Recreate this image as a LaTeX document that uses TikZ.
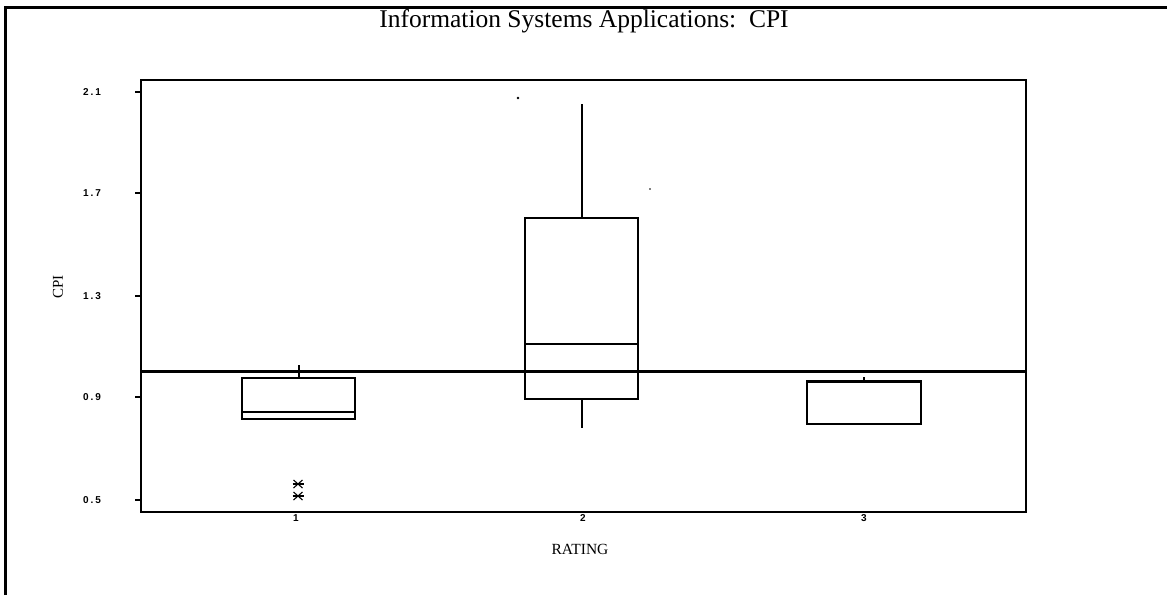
\documentclass[tikz,border=0pt]{standalone}
\usepackage{fontspec}
\setmainfont{Liberation Serif}
\newfontfamily\tickfont{Liberation Sans}[LetterSpace=20]
\begin{document}
\begin{tikzpicture}[x=1pt,y=-1pt,
  axis/.style={line width=1.1pt},
  boxline/.style={line width=1.1pt},
  refline/.style={line width=3.2pt},
  ticklabel/.style={font=\tickfont\bfseries\fontsize{10}{12}\selectfont, inner sep=0pt},
  axistitle/.style={font=\fontsize{15.5}{18}\selectfont, inner sep=0pt},
  outlier/.style={line width=1.1pt}]
\useasboundingbox (0,0) rectangle (1167,595);

% outer frame (top and left sides)
\draw[line width=3pt] (5.5,595) -- (5.5,7.5) -- (1167,7.5);

% title
\node[font=\fontsize{25.5}{30}\selectfont, inner sep=0pt] (title) at (584,21) {Information Systems Applications:\ \ CPI};

% plot area
\draw[axis] (141,80) rectangle (1026,512);

% y axis ticks and labels
\foreach \v/\y in {2.1/92, 1.7/193, 1.3/296, 0.9/397, 0.5/500} {
  \draw[axis] (135,\y) -- (141,\y);
  \node[ticklabel] (ylab\v) at (92,\y) {\v};
}
\node[axistitle, font=\fontsize{15}{17}\selectfont, rotate=90] (ytitle) at (58,287) {CPI};

% x axis labels
\node[ticklabel] (xlab1) at (296,518) {1};
\node[ticklabel] (xlab2) at (583,518) {2};
\node[ticklabel] (xlab3) at (864,518) {3};
\node[axistitle] (xtitle) at (580,549) {RATING};

% reference line at CPI = 1
\draw[refline] (141,371.5) -- (1026,371.5);

% rating 1
\draw[boxline] (242,378) rectangle (355,419);
\draw[boxline] (242,412) -- (355,412);
\draw[boxline] (299,378) -- (299,365);
\foreach \y in {484,496} {
  \draw[outlier] (293.5,\y-4) -- (302.5,\y+4);
  \draw[outlier] (293.5,\y+4) -- (302.5,\y-4);
  \draw[outlier] (292.5,\y) -- (303.5,\y);
}

% rating 2
\draw[boxline] (525,218) rectangle (638,399);
\draw[boxline] (525,344) -- (638,344);
\draw[boxline] (582,218) -- (582,104);
\draw[boxline] (582,399) -- (582,428);
\fill (518,98) circle (1.3);
\fill (650,189) circle (0.8);

% rating 3
\draw[boxline] (807,381) rectangle (921,424);
\draw[line width=2.4pt] (807,381.5) -- (921,381.5);
\draw[boxline] (864,381) -- (864,377);
\end{tikzpicture}
\end{document}
